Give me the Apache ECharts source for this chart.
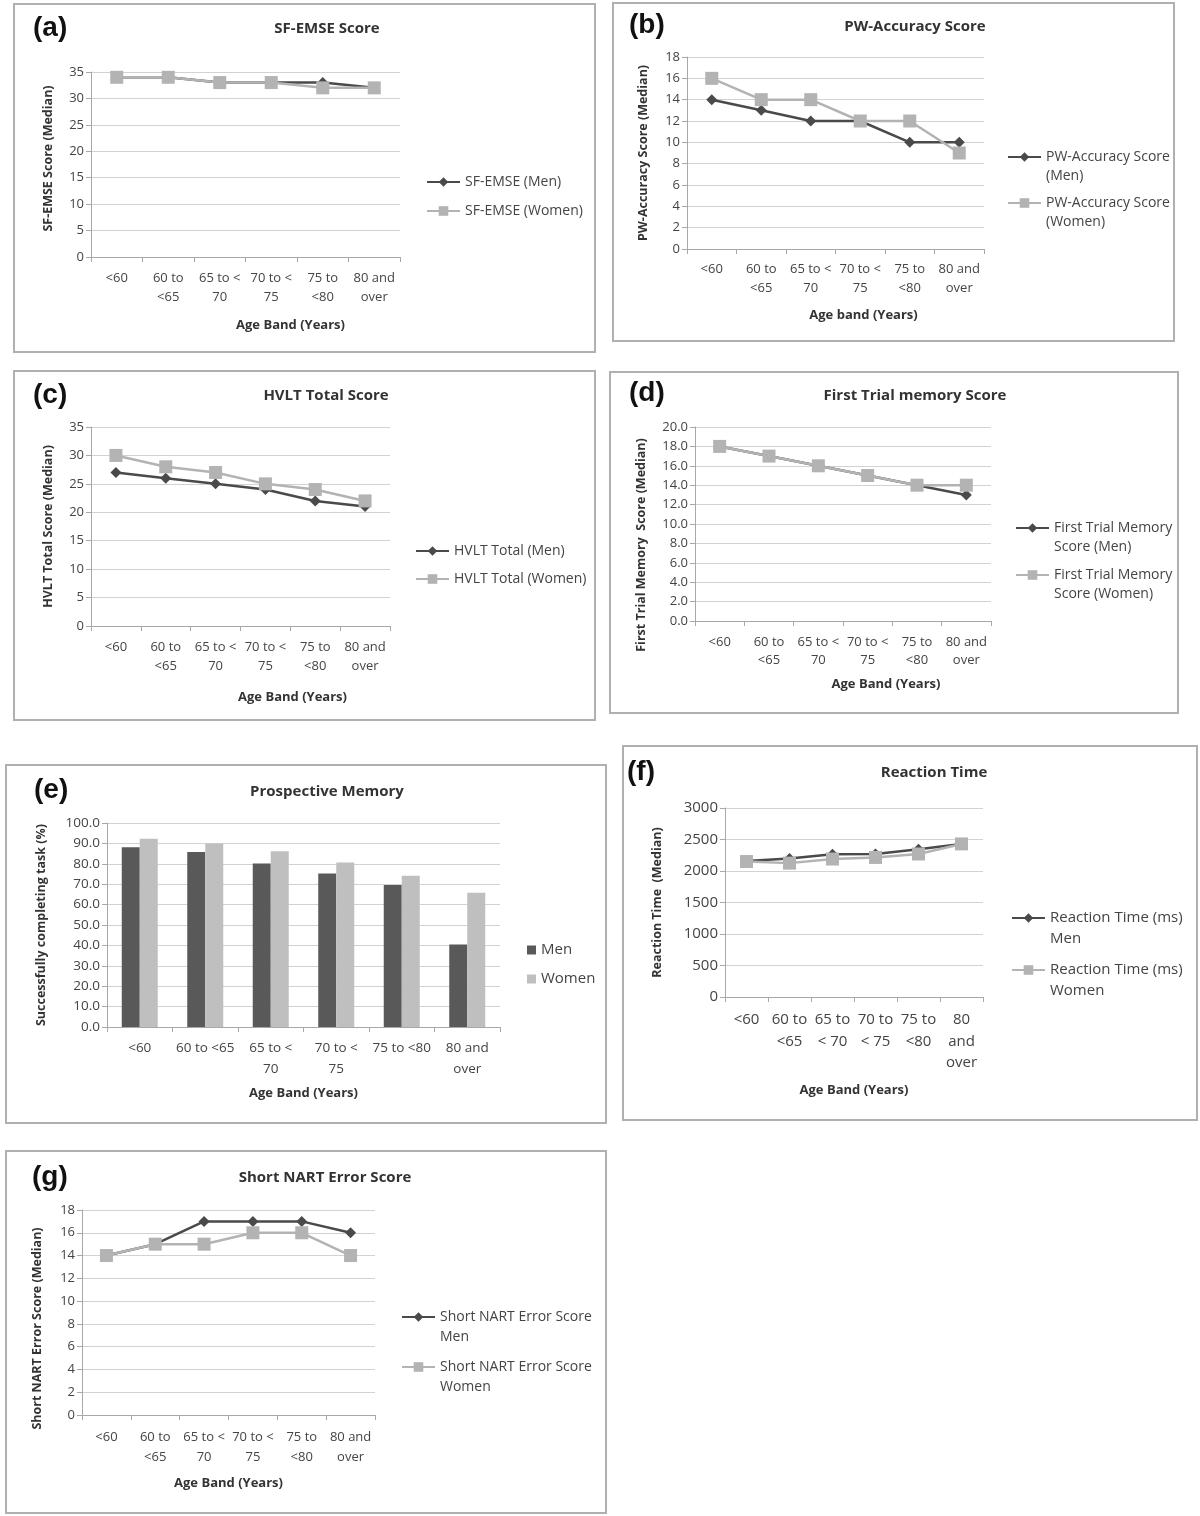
<!DOCTYPE html>
<html>
<head>
<meta charset="utf-8"/>
<script src="https://cdn.jsdelivr.net/npm/echarts@6/dist/echarts.min.js"></script>
<style>
html,body{margin:0;padding:0;background:#fff;}
#main{width:1200px;height:1516px;}
</style>
</head>
<body>
<div id="main"></div>
<script type="text/javascript">
// age band labels (line breaks as in the figure)
var ageBands = ['<60', '60 to\n<65', '65 to <\n70', '70 to <\n75', '75 to\n<80', '80 and\nover'];
var ageBandsBar = ['<60', '60 to <65', '65 to <\n70', '70 to <\n75', '75 to <80', '80 and\nover'];
var ageBandsRT = ['<60', '60 to\n<65', '65 to\n< 70', '70 to\n< 75', '75 to\n<80', '80\nand\nover'];

// (a) SF-EMSE
var emseMen = [34, 34, 33, 33, 33, 32];
var emseWomen = [34, 34, 33, 33, 32, 32];
// (b) PW-Accuracy
var pwMen = [14, 13, 12, 12, 10, 10];
var pwWomen = [16, 14, 14, 12, 12, 9];
// (c) HVLT total
var hvltMen = [27, 26, 25, 24, 22, 21];
var hvltWomen = [30, 28, 27, 25, 24, 22];
// (d) first trial memory
var firstMen = [18, 17, 16, 15, 14, 13];
var firstWomen = [18, 17, 16, 15, 14, 14];
// (e) prospective memory (%)
var prospMen = [88.1, 85.8, 80.1, 75.3, 69.6, 40.4];
var prospWomen = [92.3, 90.0, 86.1, 80.6, 74.2, 65.8];
// (f) reaction time (ms)
var rtMen = [2160, 2200, 2265, 2270, 2345, 2430];
var rtWomen = [2150, 2125, 2190, 2215, 2270, 2430];
// (g) short NART errors
var nartMen = [14, 15, 17, 17, 17, 16];
var nartWomen = [14, 15, 15, 16, 16, 14];

var FONT = '"Open Sans", "DejaVu Sans", sans-serif';
var MEN = '#4a4a4a', WOMEN = '#b3b3b3';

var panels = [
  {tag:'(a)', title:'SF-EMSE Score', yName:'SF-EMSE Score (Median)', xName:'Age Band (Years)', cats:ageBands, kind:'line',
   names:['SF-EMSE (Men)', 'SF-EMSE (Women)'], data:[emseMen, emseWomen], max:35, step:5, dec:0,
   box:[14,4,581,348], tagPos:[33,28], titlePos:[327,29], grid:[91,72,309,185],
   fs:13, lh:19, margin:11.5, xGap:60, xShift:45, yGap:35, yShift:-6, leg:[426,182,211], legLines:1, legFs:14, legLh:19},
  {tag:'(b)', title:'PW-Accuracy Score', yName:'PW-Accuracy Score (Median)', xName:'Age band (Years)', cats:ageBands, kind:'line',
   names:['PW-Accuracy Score\n(Men)', 'PW-Accuracy Score\n(Women)'], data:[pwMen, pwWomen], max:18, step:2, dec:0,
   box:[613,3,561,338], tagPos:[629,25], titlePos:[915,27], grid:[687,57,297,192],
   fs:13, lh:19, margin:10.5, xGap:58, xShift:28, yGap:36, yShift:0, leg:[1007,157,203], legLines:2, legFs:14, legLh:19},
  {tag:'(c)', title:'HVLT Total Score', yName:'HVLT Total Score (Median)', xName:'Age Band (Years)', cats:ageBands, kind:'line',
   names:['HVLT Total (Men)', 'HVLT Total (Women)'], data:[hvltMen, hvltWomen], max:35, step:5, dec:0,
   box:[14,371,581,349], tagPos:[33,395], titlePos:[326,396], grid:[91,427,299,199],
   fs:13, lh:19, margin:11.5, xGap:63, xShift:52, yGap:35, yShift:0, leg:[415,551,579], legLines:1, legFs:14, legLh:19},
  {tag:'(d)', title:'First Trial memory Score', yName:'First Trial Memory  Score (Median)', xName:'Age Band (Years)', cats:ageBands, kind:'line',
   names:['First Trial Memory\nScore (Men)', 'First Trial Memory\nScore (Women)'], data:[firstMen, firstWomen], max:20, step:2, dec:1,
   box:[610,372,568,341], tagPos:[629,393], titlePos:[915,396], grid:[695,427,296,194],
   fs:13, lh:18, margin:12, xGap:55, xShift:43, yGap:46, yShift:21, leg:[1015,528,575], legLines:2, legFs:14, legLh:19},
  {tag:'(e)', title:'Prospective Memory', yName:'Successfully completing task (%)', xName:'Age Band (Years)', cats:ageBandsBar, kind:'bar',
   names:['Men', 'Women'], data:[prospMen, prospWomen], max:100, step:10, dec:1,
   box:[6,765,600,358], tagPos:[34,790], titlePos:[327,792], grid:[107,823,393,204],
   fs:13.5, lh:21, margin:10.5, xGap:58, xShift:0, yGap:58, yShift:0, leg:[527,950,979], legLines:1, legFs:15, legLh:20},
  {tag:'(f)', title:'Reaction Time', yName:'Reaction Time  (Median)', xName:'Age Band (Years)', cats:ageBandsRT, kind:'line',
   names:['Reaction Time (ms)\nMen', 'Reaction Time (ms)\nWomen'], data:[rtMen, rtWomen], max:3000, step:500, dec:0,
   box:[623,746,574,374], tagPos:[627,772], titlePos:[934,773], grid:[725,808,258,189],
   fs:15, lh:21.5, margin:12, xGap:85, xShift:0, yGap:60, yShift:0, leg:[1011,918,970], legLines:2, legFs:15, legLh:21},
  {tag:'(g)', title:'Short NART Error Score', yName:'Short NART Error Score (Median)', xName:'Age Band (Years)', cats:ageBands, kind:'line',
   names:['Short NART Error Score\nMen', 'Short NART Error Score\nWomen'], data:[nartMen, nartWomen], max:18, step:2, dec:0,
   box:[6,1151,600,362], tagPos:[32,1177], titlePos:[325,1178], grid:[82,1210,293,205],
   fs:13, lh:20, margin:12, xGap:60, xShift:0, yGap:37, yShift:16, leg:[401,1317,1367], legLines:2, legFs:14, legLh:20}
];

var options = {backgroundColor:'#fff', animation:false, title:[], grid:[], xAxis:[], yAxis:[], series:[], legend:[], graphic:[]};

panels.forEach(function (p, i) {
  // panel frame
  options.graphic.push({type:'rect', z:-1, shape:{x:p.box[0], y:p.box[1], width:p.box[2], height:p.box[3]},
    style:{fill:'none', stroke:'#b0b0b0', lineWidth:2}});
  // (a), (b) ... tags
  options.title.push({text:p.tag, left:p.tagPos[0], top:p.tagPos[1] - 17, padding:0,
    textStyle:{fontFamily:'"Liberation Sans", Arial, sans-serif', fontWeight:'bold', fontSize:28, lineHeight:34, color:'#111'}});
  options.title.push({text:p.title, left:p.titlePos[0], top:p.titlePos[1] - 10, textAlign:'center', padding:0,
    textStyle:{fontFamily:FONT, fontWeight:'bold', fontSize:15, lineHeight:20, color:'#333'}});

  options.grid.push({left:p.grid[0], top:p.grid[1], width:p.grid[2], height:p.grid[3]});

  options.xAxis.push({gridIndex:i, type:'category', data:p.cats,
    name:p.xName, nameLocation:'middle', nameGap:p.xGap,
    nameTextStyle:{fontFamily:FONT, fontWeight:'bold', fontSize:13, lineHeight:16, color:'#333', padding:[0,0,0,2*p.xShift]},
    axisLine:{lineStyle:{color:'#a8a8a8', width:1}},
    axisTick:{show:true, length:5, lineStyle:{color:'#a8a8a8'}},
    axisLabel:{interval:0, margin:p.margin, fontFamily:FONT, fontSize:p.fs, lineHeight:p.lh, color:'#444'}
  });

  options.yAxis.push({gridIndex:i, type:'value', min:0, max:p.max, interval:p.step,
    name:p.yName, nameLocation:'middle', nameGap:p.yGap, nameRotate:90,
    nameTextStyle:{fontFamily:FONT, fontWeight:'bold', fontSize:12.5, lineHeight:16, color:'#333',
      padding:p.yShift >= 0 ? [0, 2*p.yShift, 0, 0] : [0, 0, 0, -2*p.yShift]},
    axisLine:{show:true, lineStyle:{color:'#a8a8a8', width:1}},
    axisTick:{show:true, length:5, lineStyle:{color:'#a8a8a8'}},
    splitLine:{lineStyle:{color:'#d2d2d2', width:1}},
    axisLabel:{margin:7, fontFamily:FONT, fontSize:p.fs, color:'#444',
      formatter:function (v) { return v.toFixed(p.dec); }}
  });

  var cols = [MEN, WOMEN];
  p.names.forEach(function (nm, k) {
    if (p.kind === 'bar') {
      options.series.push({type:'bar', name:nm, xAxisIndex:i, yAxisIndex:i, data:p.data[k],
        barWidth:18, barGap:'0%', itemStyle:{color:k === 0 ? '#595959' : '#bfbfbf'}});
    } else {
      options.series.push({type:'line', name:nm, xAxisIndex:i, yAxisIndex:i, data:p.data[k],
        symbol:k === 0 ? 'diamond' : 'rect', symbolSize:k === 0 ? 11 : 13,
        lineStyle:{color:cols[k], width:2.5}, itemStyle:{color:cols[k]}, z:2 + k});
    }
    // one legend per entry; two-line names get a blank first line so the
    // icon lines up with the first text line, as in the figure
    var lh = p.legLh, y = p.leg[k + 1];
    var two = p.legLines === 2;
    options.legend.push({
      left:p.leg[0], top:two ? y - 1.5 * lh : y - lh / 2, padding:0, orient:'vertical',
      data:[nm], selectedMode:false,
      icon:p.kind === 'bar' ? 'rect' : undefined,
      itemWidth:p.kind === 'bar' ? 9 : 33, itemHeight:p.kind === 'bar' ? 9 : 12, itemGap:0,
      formatter:two ? function (n) { return ' \n' + n; } : undefined,
      textStyle:{fontFamily:FONT, fontSize:p.legFs, lineHeight:lh, color:'#444'}
    });
  });
});

var myChart = echarts.init(document.getElementById('main'));
myChart.setOption(options);
</script>
</body>
</html>
